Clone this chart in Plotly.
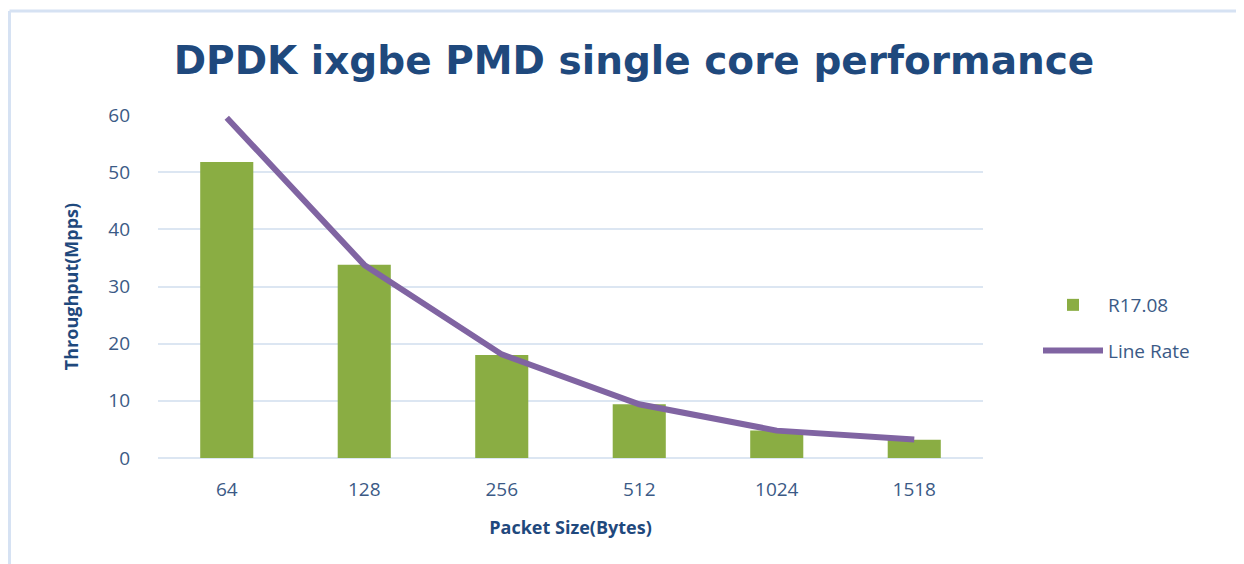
import plotly.graph_objects as go

categories = ["64", "128", "256", "512", "1024", "1518"]
r1708 = [51.8, 33.8, 18.0, 9.4, 4.8, 3.2]
line_rate = [59.52, 33.78, 18.12, 9.40, 4.79, 3.25]
y_ticks = [0, 10, 20, 30, 40, 50, 60]

OFF = 8  # page body margin
W, H = 1244 - OFF, 564 - OFF
L, R, T, B = 158 - OFF, 261, 115 - OFF, 106
pw, ph = W - L - R, H - T - B

def px_x(x):
    return (x - OFF - L) / pw

def px_y(y):
    return (T + ph - (y - OFF)) / ph

FONT = "Open Sans"
TICK_COLOR = "#3b5a86"
TITLE_COLOR = "#1f497d"

fig = go.Figure()
fig.add_trace(go.Bar(
    x=categories, y=r1708, name="R17.08", legendgroup="a",
    marker=dict(color="#8aad43", line=dict(width=0)),
))
fig.add_trace(go.Scatter(
    x=categories, y=line_rate, name="Line Rate", mode="lines", legendgroup="b",
    line=dict(color="#8064a2", width=6),
))

fig.update_layout(
    width=W, height=H,
    margin=dict(l=L, r=R, t=T, b=B),
    paper_bgcolor="white", plot_bgcolor="white",
    bargap=0.614,
    title=dict(
        text="<b>DPDK ixgbe PMD single core performance</b>",
        font=dict(family="DejaVu Sans", size=39, color=TITLE_COLOR),
        x=(634 - OFF) / W, xanchor="center", xref="container",
        y=1 - (60 - OFF) / H, yanchor="middle",
    ),
    font=dict(family=FONT, color=TICK_COLOR),
    xaxis=dict(
        type="category", range=[-0.5, 5.5],
        showgrid=False, showline=False, ticks="",
        tickfont=dict(size=19, color=TICK_COLOR),
        ticklabelstandoff=18,
        title=dict(text="<b>Packet Size(Bytes)</b>", font=dict(size=18, color=TITLE_COLOR), standoff=20),
    ),
    yaxis=dict(
        range=[0, 60], tickvals=y_ticks,
        showgrid=True, gridcolor="#dce6f2", gridwidth=2,
        zeroline=True, zerolinecolor="#dce6f2", zerolinewidth=2,
        showline=False, ticks="",
        tickfont=dict(size=19, color=TICK_COLOR),
        ticklabelstandoff=27,
        title=dict(text="<b>Throughput(Mpps)</b>", font=dict(size=18, color=TITLE_COLOR), standoff=24),
    ),
    legend=dict(
        x=px_x(1038), y=px_y(286), xanchor="left", yanchor="top",
        font=dict(size=19, color=TICK_COLOR),
        bgcolor="rgba(0,0,0,0)", tracegroupgap=18, itemwidth=60,
    ),
    shapes=[
        dict(type="line", xref="paper", yref="paper",
             x0=px_x(9.5), x1=px_x(1250), y0=px_y(11), y1=px_y(11),
             line=dict(color="#d6e2f3", width=3)),
        dict(type="line", xref="paper", yref="paper",
             x0=px_x(9.5), x1=px_x(9.5), y0=px_y(11), y1=px_y(570),
             line=dict(color="#d6e2f3", width=3)),
    ],
)

fig.write_html("out.html")
